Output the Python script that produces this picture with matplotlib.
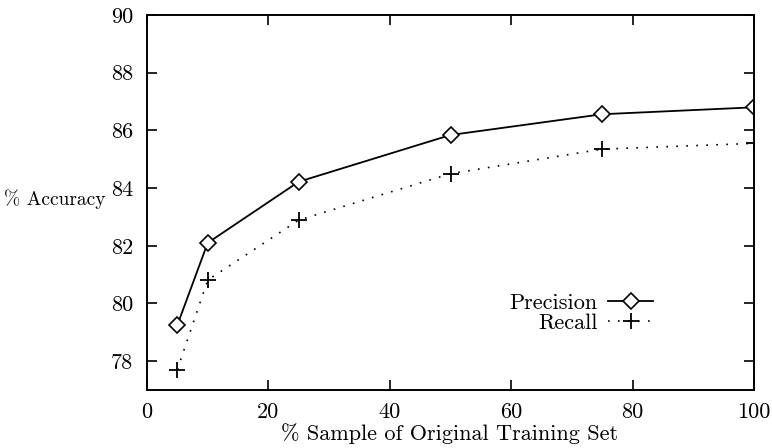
import matplotlib
matplotlib.use("Agg")
import matplotlib.pyplot as plt

x_vals = [5, 10, 25, 50, 75, 100]
precision = [79.25, 82.1, 84.22, 85.84, 86.56, 86.8]
recall = [77.71, 80.81, 82.89, 84.5, 85.35, 85.55]
x_ticks = [0, 20, 40, 60, 80, 100]
y_ticks = [78, 80, 82, 84, 86, 88, 90]

plt.rcParams['font.family'] = ['cmr10', 'DejaVu Serif']
plt.rcParams['axes.formatter.use_mathtext'] = True
plt.rcParams['mathtext.fontset'] = 'cm'

fs = 16
fig = plt.figure(figsize=(7.72, 4.48), dpi=100)
ax = fig.add_axes([147/772, 1-390/448, (754-147)/772, (390-15)/448])

ax.plot(x_vals, precision, color='black', linestyle='-', linewidth=1.3,
        marker='D', markersize=8, markerfacecolor='white', markeredgecolor='black',
        markeredgewidth=1.2, label='Precision')
ax.plot(x_vals, recall, color='black', linestyle=(0, (1, 5)), linewidth=1.2,
        marker='+', markersize=12, markeredgewidth=1.3, label='Recall')

ax.set_xlim(0, 100)
ax.set_ylim(77, 90)
ax.set_xticks(x_ticks)
ax.set_yticks(y_ticks)
ax.set_xticklabels([str(v) for v in x_ticks])
ax.set_yticklabels([str(v) for v in y_ticks])
ax.tick_params(direction='in', top=True, right=True, length=7, width=1.2,
               labelsize=fs)
ax.tick_params(axis='y', pad=10)
ax.tick_params(axis='x', pad=9)
for s in ax.spines.values():
    s.set_linewidth(1.4)

ax.set_xlabel('% Sample of Original Training Set', fontsize=fs, va='center')
ax.set_ylabel('% Accuracy', fontsize=14, rotation=0, ha='left', va='center')
ax.yaxis.set_label_coords(-143/607, (390-199)/375)
ax.xaxis.set_label_coords((450-147)/607, -(434-390)/375)

leg = ax.legend(loc='center', bbox_to_anchor=(0.715, 0.205), frameon=False,
                markerfirst=False, fontsize=fs, handlelength=2.0,
                labelspacing=0.05, handletextpad=0.5)
for t in leg.get_texts():
    t.set_ha('right')
leg._legend_box.align = 'right'

fig.savefig('out.png', dpi=100)
